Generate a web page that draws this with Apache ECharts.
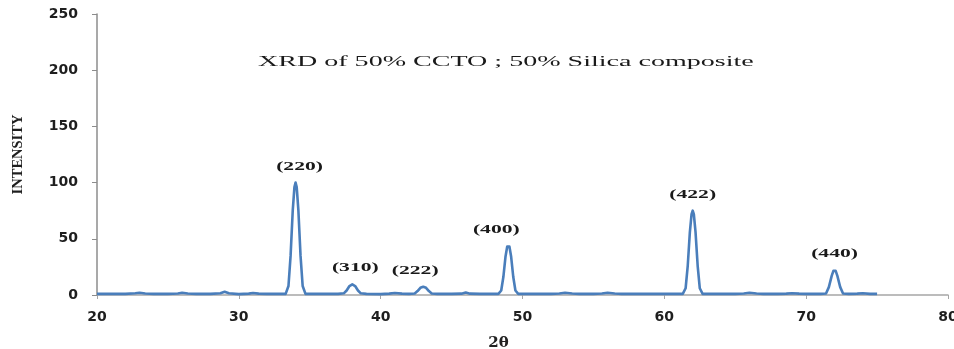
<!DOCTYPE html>
<html>
<head>
<meta charset="utf-8">
<script src="https://cdn.jsdelivr.net/npm/echarts@6/dist/echarts.min.js"></script>
<style>
  html, body { margin: 0; padding: 0; background: #fff; }
  #chart { width: 954px; height: 349px; }
</style>
</head>
<body>
<div id="chart"></div>
<script>
// XRD pattern of the 50% CCTO / 50% silica composite
const titleText = 'XRD of 50% CCTO ; 50% Silica composite';

// diffraction angle (2θ, degrees)
const twoTheta = [
  20, 21, 22, 22.7, 23, 23.4, 24, 25, 25.7, 26, 26.4, 27, 28, 28.7, 29, 29.3,
  30, 30.7, 31, 31.4, 32, 33, 33.3, 33.5, 33.65, 33.8, 33.92, 34, 34.08, 34.2, 34.35, 34.5, 34.7,
  35, 36, 37, 37.4, 37.6, 37.8, 37.92, 38, 38.08, 38.2, 38.4, 38.6, 39, 40, 40.6, 41, 41.5, 42,
  42.4, 42.6, 42.8, 42.92, 43, 43.08, 43.2, 43.4, 43.6, 44, 45, 45.7, 46, 46.3, 47, 48,
  48.3, 48.5, 48.65, 48.8, 48.92, 49, 49.08, 49.2, 49.35, 49.5, 49.7, 50, 51, 52, 52.6, 53, 53.5, 54, 55,
  55.6, 56, 56.5, 57, 58, 59, 60, 61, 61.3, 61.5, 61.65, 61.8, 61.92, 62, 62.08, 62.2, 62.35, 62.5, 62.7,
  63, 64, 65, 65.6, 66, 66.5, 67, 68, 68.6, 69, 69.5, 70, 71,
  71.4, 71.6, 71.8, 71.92, 72, 72.08, 72.2, 72.4, 72.6, 73, 73.6, 74, 74.5, 75
];

// measured intensity (a.u.)
const intensity = [
  1, 1, 1, 1.5, 2, 1.3, 1, 1, 1.4, 2, 1.3, 1, 1, 1.5, 2.8, 1.5,
  0.8, 1.2, 1.8, 1.2, 1, 1, 1, 8, 35, 75, 96, 100, 96, 75, 35, 8, 1,
  1, 1, 1, 1.5, 4, 8, 9.3, 9.5, 9.3, 8, 4, 1.5, 1, 0.8, 1.2, 1.8, 1.2, 1,
  1.4, 3.5, 6.4, 7.3, 7.4, 7.3, 6.4, 3.5, 1.4, 1, 1, 1.2, 2.2, 1.2, 1, 1,
  1, 4, 16, 34, 43, 44, 43, 34, 16, 4, 1, 1, 1, 1, 1.3, 2, 1.3, 1, 1,
  1.3, 2, 1.3, 1, 1, 1, 1, 1, 1, 6, 26, 56, 72, 75, 72, 56, 26, 6, 1,
  1, 1, 1, 1.3, 2, 1.3, 1, 1, 1.2, 1.6, 1.2, 1, 1,
  1.3, 7, 17, 21.5, 22, 21.5, 17, 7, 1.3, 1, 1.2, 1.5, 1, 1
];

// indexed reflections
const peakTheta = [34, 38, 43, 49, 62, 72];
const peakHkl = ['(220)', '(310)', '(222)', '(400)', '(422)', '(440)'];

// axis ticks
const xTicks = { min: 20, max: 80, interval: 10 };
const yTicks = { min: 0, max: 250, interval: 50 };

// horizontal nudges (px) for the reflection labels
const labelNudge = [4, 3, -8, -12, 0, 0];

const curve = twoTheta.map((t, i) => [t, intensity[i]]);
const peaks = peakTheta.map((t) => [t, intensity[twoTheta.indexOf(t)]]);

const tickFont = { fontFamily: 'DejaVu Sans', fontWeight: 'bold', fontSize: 14, color: '#1e1e1e' };
const chart = echarts.init(document.getElementById('chart'), null, { renderer: 'canvas' });

chart.setOption({
  animation: false,
  backgroundColor: '#ffffff',
  grid: { left: 97, right: 6, top: 14, bottom: 54, containLabel: false, outerBoundsMode: 'none' },
  xAxis: {
    type: 'value',
    min: xTicks.min, max: xTicks.max, interval: xTicks.interval,
    name: '2θ',
    nameLocation: 'middle',
    nameGap: 41,
    nameTextStyle: {
      fontFamily: 'DejaVu Serif', fontWeight: 'bold', fontSize: 15, color: '#222',
      padding: [0, 48, 0, 0]
    },
    axisLine: { show: true, onZero: false, lineStyle: { color: '#a6a6a6', width: 1.5 } },
    axisTick: { show: true, inside: false, length: 4, lineStyle: { color: '#a6a6a6' } },
    axisLabel: Object.assign({ margin: 15 }, tickFont),
    splitLine: { show: false }
  },
  yAxis: {
    type: 'value',
    min: yTicks.min, max: yTicks.max, interval: yTicks.interval,
    name: 'INTENSITY',
    nameLocation: 'middle',
    nameGap: 71,
    nameRotate: 90,
    nameTextStyle: { fontFamily: 'Liberation Serif', fontWeight: 'bold', fontSize: 14.5, color: '#1e1e1e' },
    axisLine: { show: true, lineStyle: { color: '#8c8c8c', width: 1.5 } },
    axisTick: { show: true, inside: false, length: 5, lineStyle: { color: '#8c8c8c' } },
    axisLabel: Object.assign({ margin: 19 }, tickFont),
    splitLine: { show: false }
  },
  graphic: [{
    type: 'text',
    x: 258, y: 62,
    scaleX: 1.87,
    style: {
      text: titleText,
      font: '15px "Liberation Serif"',
      fill: '#1a1a1a',
      textAlign: 'left',
      textVerticalAlign: 'middle'
    }
  }],
  series: [
    {
      type: 'line',
      data: curve,
      showSymbol: false,
      symbol: 'none',
      smooth: false,
      lineStyle: { color: '#4A7EBB', width: 2.6, join: 'round' },
      z: 3
    },
    {
      type: 'custom',
      data: peaks,
      silent: true,
      clip: false,
      z: 4,
      renderItem: function (params, api) {
        const p = api.coord([api.value(0), api.value(1)]);
        return {
          type: 'text',
          x: p[0] + labelNudge[params.dataIndex],
          y: p[1] - 16,
          scaleX: 1.8,
          style: {
            text: peakHkl[params.dataIndex],
            font: 'bold 12px "Liberation Serif"',
            fill: '#1a1a1a',
            textAlign: 'center',
            textVerticalAlign: 'middle'
          }
        };
      }
    }
  ]
});
</script>
</body>
</html>
